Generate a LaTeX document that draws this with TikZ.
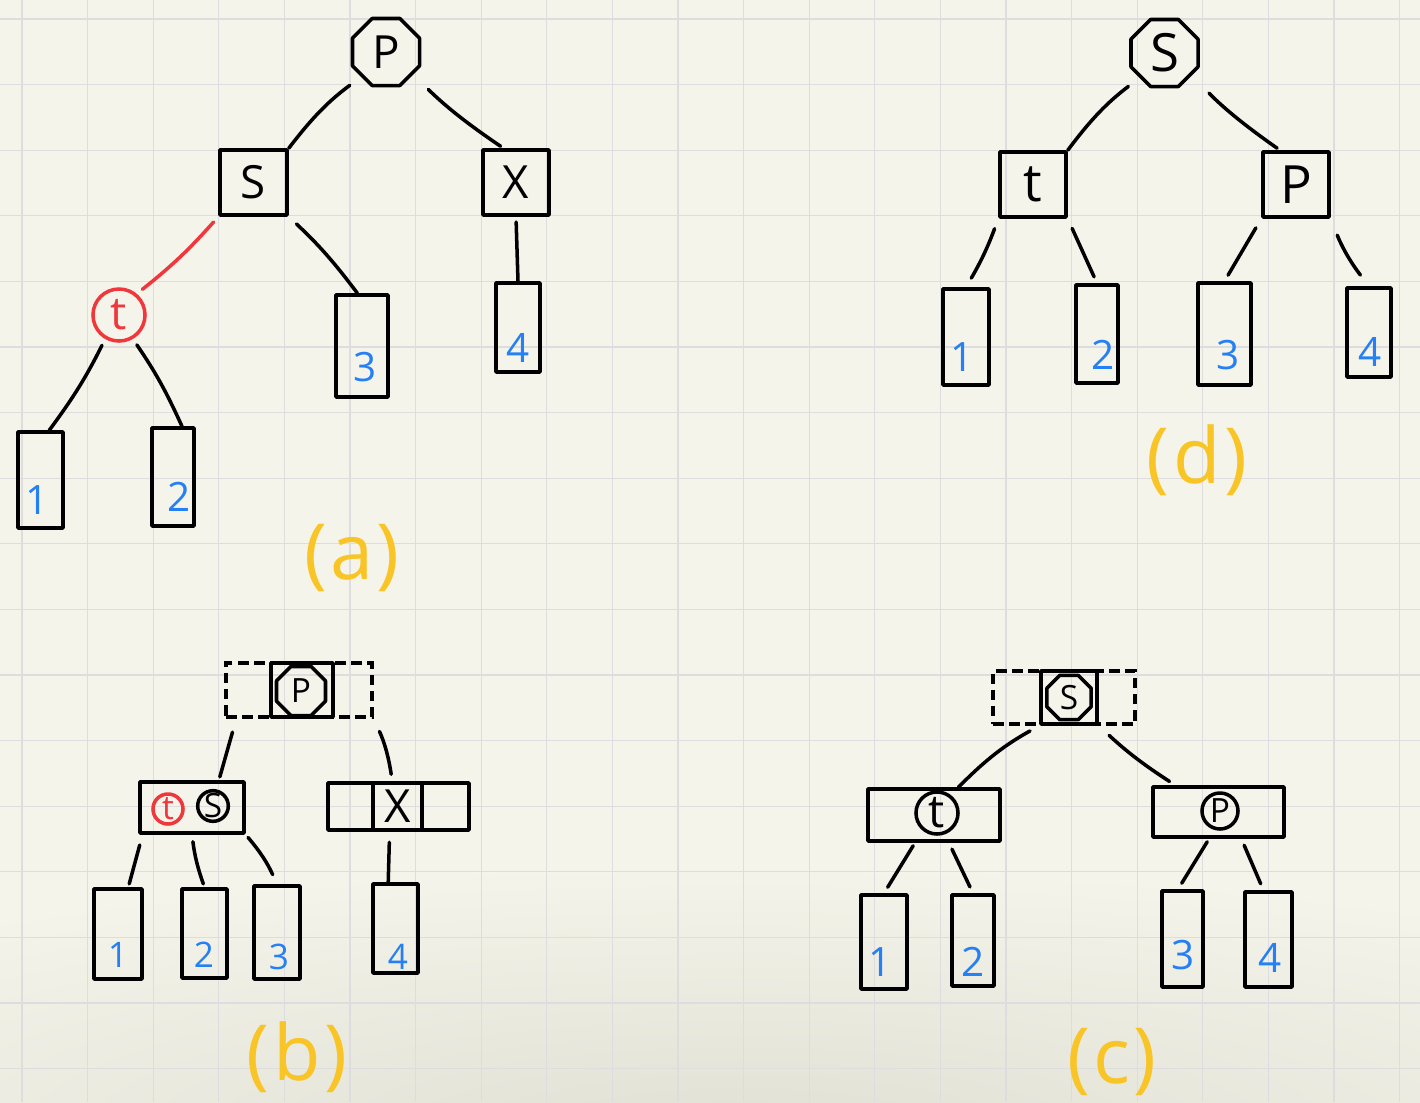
\documentclass[tikz,border=0pt]{standalone}
\usepackage{fontspec}
\setmainfont{Open Sans}
\usetikzlibrary{shapes.geometric,calc}
\definecolor{paper}{RGB}{245,244,234}
\definecolor{shadowc}{RGB}{225,224,213}
\definecolor{gridc}{RGB}{221,221,223}
\definecolor{numblue}{RGB}{38,128,245}
\definecolor{inkred}{RGB}{240,55,60}
\definecolor{gold}{RGB}{248,196,38}
\begin{document}
\begin{tikzpicture}[x=0.01cm,y=-0.01cm,
  ink/.style={line width=1pt, line cap=round, line join=round},
  box/.style={draw, ink, rectangle, inner sep=0pt},
  dbox/.style={draw, line width=0.9pt, dash pattern=on 3pt off 1.6pt, rectangle, inner sep=0pt},
  oct/.style={draw, ink, regular polygon, regular polygon sides=8, inner sep=0pt},
  ring/.style={draw, ink, circle, inner sep=0pt},
  conn/.style={ink},
  redconn/.style={ink, draw=inkred},
  num/.style={text=numblue, inner sep=0pt, font=\fontsize{11.5}{11.5}\selectfont},
  snum/.style={text=numblue, inner sep=0pt, font=\fontsize{10}{10}\selectfont},
  tag/.style={text=gold, inner sep=0pt, font=\fontsize{22}{22}\selectfont},
  fa/.style={font=\fontsize{13}{13}\selectfont},
  fd/.style={font=\fontsize{15}{15}\selectfont},
  fs/.style={font=\fontsize{9.5}{9.5}\selectfont},
  gridline/.style={draw=gridc, line width=0.35pt}]

\useasboundingbox (0,0) rectangle (1420,1102);
\fill[paper] (0,0) rectangle (1420,1102);
\begin{scope}
  \clip (0,0) rectangle (1420,1102);
  \shade[inner color=shadowc, outer color=paper]
    (740,1135) ellipse [x radius=1250, y radius=270];
\end{scope}
\foreach \k in {0,...,21} \draw[gridline] ({22+65.6*\k},0) -- ({22+65.6*\k},1102);
\foreach \k in {0,...,16} \draw[gridline] (0,{19+65.6*\k}) -- (1420,{19+65.6*\k});

% ---------------- (a) ----------------
\node[oct, fa, minimum size=0.725cm] (aP) at (386,52) {P};
\node[box, fa, minimum width=0.67cm, minimum height=0.65cm] (aS) at (253.5,182.5) {S};
\node[box, fa, minimum width=0.66cm, minimum height=0.65cm] (aX) at (516,182.5) {X};
\node[ring, draw=inkred, text=inkred, fa, minimum size=0.52cm] (aT) at (119,315) {t};
\node[box, minimum width=0.45cm, minimum height=0.96cm] (a1) at (40.5,480) {};
\node[box, minimum width=0.42cm, minimum height=0.98cm] (a2) at (173,477) {};
\node[box, minimum width=0.52cm, minimum height=1.02cm] (a3) at (362,346) {};
\node[box, minimum width=0.44cm, minimum height=0.89cm] (a4) at (518,327.5) {};
\node[num] (a1n) at (37,500) {1};
\node[num] (a2n) at (179,497) {2};
\node[num] (a3n) at (365,367) {3};
\node[num] (a4n) at (518,348) {4};
\draw[conn, shorten <=4pt] (aP.225) to[bend right=8] (aS.north east);
\draw[conn, shorten <=6pt, shorten >=1pt] (aP.-40) to[bend right=5] (aX.110);
\draw[redconn, shorten <=2pt, shorten >=2pt] (aS.south west) to[bend left=5] (aT.50);
\draw[conn, shorten <=3pt] (aS.south east) to[bend left=5] (a3.95);
\draw[conn, shorten <=1.5pt] (aX.south) -- (a4.north);
\draw[conn, shorten <=2pt] (aT.240) to[bend left=5] (a1.80);
\draw[conn, shorten <=2pt] (aT.-60) to[bend left=5] (a2.80);
\node[tag] (la) at (352,558) {(\kern1pt a\kern1pt)};

% ---------------- (d) ----------------
\node[oct, fd, minimum size=0.725cm] (dS) at (1164.5,53) {S};
\node[box, fd, minimum width=0.66cm, minimum height=0.65cm] (dT) at (1033,184.5) {t};
\node[box, fd, minimum width=0.66cm, minimum height=0.65cm] (dP) at (1296,184.5) {P};
\node[box, minimum width=0.46cm, minimum height=0.96cm] (d1) at (966,337) {};
\node[box, minimum width=0.42cm, minimum height=0.98cm] (d2) at (1097,334) {};
\node[box, minimum width=0.53cm, minimum height=1.02cm] (d3) at (1224.5,334) {};
\node[box, minimum width=0.44cm, minimum height=0.89cm] (d4) at (1369,332.5) {};
\node[num] (d1n) at (962,357) {1};
\node[num] (d2n) at (1103,355) {2};
\node[num] (d3n) at (1228,355) {3};
\node[num] (d4n) at (1370,352) {4};
\draw[conn, shorten <=4pt] (dS.225) to[bend right=8] (dT.north east);
\draw[conn, shorten <=7pt, shorten >=1pt] (dS.-40) to[bend right=5] (dP.115);
\draw[conn, shorten <=3pt, shorten >=3pt] (dT.south west) to[bend left=5] (d1.north);
\draw[conn, shorten <=3pt, shorten >=2pt] (dT.south east) -- (d2.north);
\draw[conn, shorten <=3pt, shorten >=2pt] (dP.south west) -- (d3.north);
\draw[conn, shorten <=5pt, shorten >=4pt] (dP.south east) to[bend right=8] (d4.north);
\node[tag] (ld) at (1197,460) {(\kern1pt d\kern1pt)};

% ---------------- (b) ----------------
\node[dbox, minimum width=1.46cm, minimum height=0.54cm] (bDash) at (299,690) {};
\node[box, minimum width=0.62cm, minimum height=0.54cm] (bMid) at (302,690) {};
\node[oct, fs, minimum size=0.53cm] (bP) at (301,691) {P};
\node[box, minimum width=1.04cm, minimum height=0.51cm] (bTS) at (192,807.5) {};
\node[ring, draw=inkred, text=inkred, fs, minimum size=0.30cm] (bt) at (168,809) {t};
\node[ring, fs, minimum size=0.30cm] (bs) at (213,806) {S};
\node[box, minimum width=0.45cm, minimum height=0.47cm] (bXl) at (350.5,806.5) {};
\node[box, fa, minimum width=0.49cm, minimum height=0.47cm] (bXm) at (397.5,806.5) {X};
\node[box, minimum width=0.47cm, minimum height=0.47cm] (bXr) at (445.5,806.5) {};
\node[box, minimum width=0.48cm, minimum height=0.90cm] (b1) at (118,934) {};
\node[box, minimum width=0.45cm, minimum height=0.89cm] (b2) at (204.5,933.5) {};
\node[box, minimum width=0.46cm, minimum height=0.93cm] (b3) at (277,932.5) {};
\node[box, minimum width=0.45cm, minimum height=0.89cm] (b4) at (395.5,928.5) {};
\node[snum] (b1n) at (118,955) {1};
\node[snum] (b2n) at (204,955) {2};
\node[snum] (b3n) at (279,957) {3};
\node[snum] (b4n) at (398,957) {4};
\draw[conn, shorten <=4pt, shorten >=1pt] ($(bDash.south west)!0.08!(bDash.south east)$) -- ($(bTS.north west)!0.75!(bTS.north east)$);
\draw[conn, shorten <=4pt, shorten >=2pt] (bDash.south east) to[bend left=8] ($(bXm.north west)!0.4!(bXm.north east)$);
\draw[conn, shorten <=3pt, shorten >=1pt] ($(bTS.south west)!0.04!(bTS.south east)$) -- ($(b1.north west)!0.7!(b1.north east)$);
\draw[conn, shorten <=2pt, shorten >=1pt] (bTS.south) to[bend right=6] (b2.north);
\draw[conn, shorten <=1pt, shorten >=3pt] (bTS.south east) to[bend left=8] (b3.north);
\draw[conn, shorten <=3pt] ($(bXm.south west)!0.35!(bXm.south east)$) -- ($(b4.north west)!0.35!(b4.north east)$);
\node[tag] (lb) at (297,1057) {(\kern1pt b\kern1pt)};

% ---------------- (c) ----------------
\node[dbox, minimum width=1.42cm, minimum height=0.53cm] (cDash) at (1064,697.5) {};
\node[box, minimum width=0.56cm, minimum height=0.53cm] (cMid) at (1069,697.5) {};
\node[oct, fs, minimum size=0.48cm] (cS) at (1069,697.5) {S};
\node[box, minimum width=1.32cm, minimum height=0.52cm] (cT) at (934,815) {};
\node[ring, fa, minimum size=0.42cm] (ct) at (937,813) {t};
\node[box, minimum width=1.31cm, minimum height=0.50cm] (cP) at (1218.5,812) {};
\node[ring, fs, minimum size=0.36cm] (cp) at (1220,811) {P};
\node[box, minimum width=0.46cm, minimum height=0.94cm] (c1) at (884,942) {};
\node[box, minimum width=0.42cm, minimum height=0.91cm] (c2) at (973,940.5) {};
\node[box, minimum width=0.41cm, minimum height=0.96cm] (c3) at (1182.5,939) {};
\node[box, minimum width=0.47cm, minimum height=0.95cm] (c4) at (1268.5,939.5) {};
\node[num] (c1n) at (880,962) {1};
\node[num] (c2n) at (973,962) {2};
\node[num] (c3n) at (1183,955) {3};
\node[num] (c4n) at (1270,958) {4};
\draw[conn, shorten <=3pt] (cMid.south west) to[bend right=8] ($(cT.north west)!0.68!(cT.north east)$);
\draw[conn, shorten <=4pt, shorten >=2pt] (cMid.south east) to[bend right=5] ($(cP.north west)!0.18!(cP.north east)$);
\draw[conn, shorten <=1pt, shorten >=2pt] ($(cT.south west)!0.36!(cT.south east)$) -- (c1.north);
\draw[conn, shorten <=2pt, shorten >=2pt] ($(cT.south west)!0.61!(cT.south east)$) -- (c2.north);
\draw[conn, shorten <=1pt, shorten >=2pt] ($(cP.south west)!0.43!(cP.south east)$) -- ($(c3.north west)!0.4!(c3.north east)$);
\draw[conn, shorten <=2pt, shorten >=2pt] ($(cP.south west)!0.67!(cP.south east)$) -- ($(c4.north west)!0.4!(c4.north east)$);
\node[tag] (lc) at (1112,1062) {(\kern1pt c\kern1pt)};
\end{tikzpicture}
\end{document}
